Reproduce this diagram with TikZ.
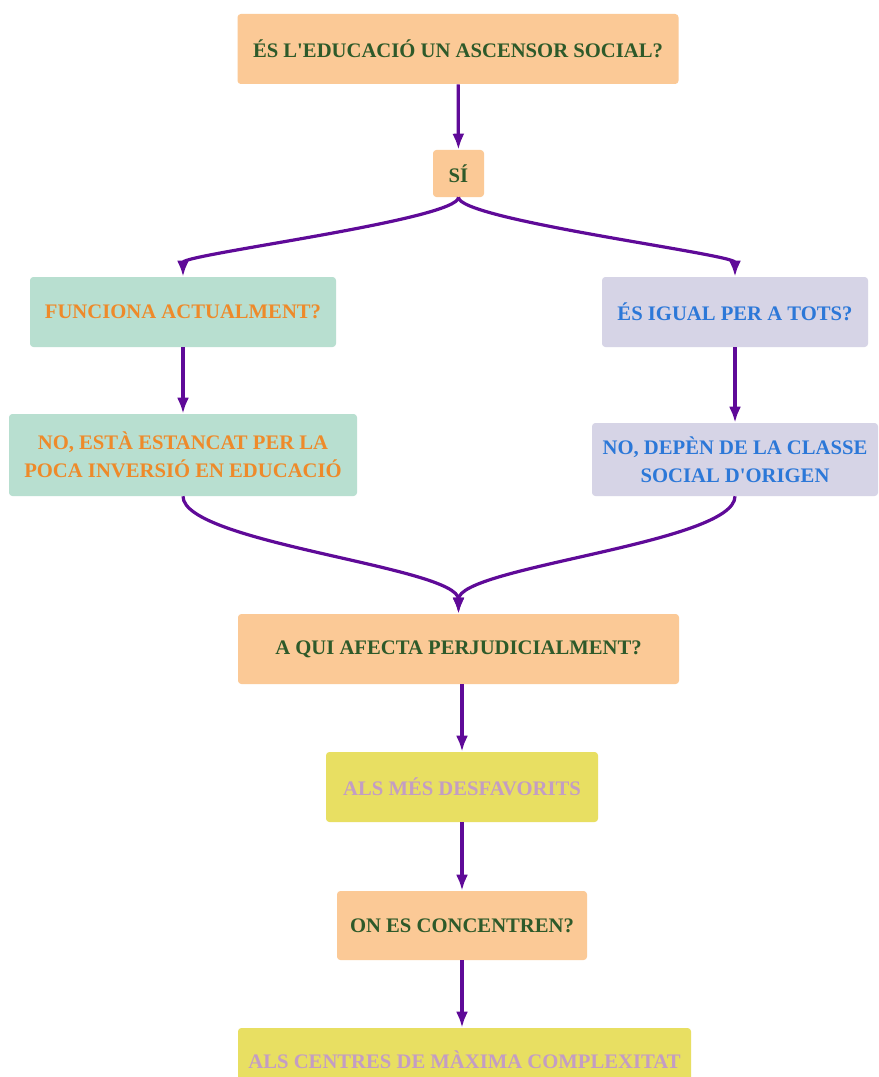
\documentclass[tikz,border=0pt]{standalone}
\usepackage{fontspec}
\setmainfont{Liberation Serif}
\usepackage{xcolor}
\usetikzlibrary{arrows.meta}
\definecolor{peach}{HTML}{FBC996}
\definecolor{mint}{HTML}{B8DFD0}
\definecolor{lavender}{HTML}{D6D4E6}
\definecolor{lemon}{HTML}{E8DF62}
\definecolor{leaf}{HTML}{2E5A2A}
\definecolor{tangerine}{HTML}{EE8A2A}
\definecolor{azure}{HTML}{2C78D8}
\definecolor{mauve}{HTML}{C39DC4}
\definecolor{plum}{HTML}{5F0A98}

\begin{document}
\begin{tikzpicture}[x=0.75pt,y=-0.75pt,
	box/.style={rounded corners=2.5pt,inner sep=0pt,align=center,
		font=\bfseries\fontsize{15.5}{21}\selectfont},
	ask/.style={box,fill=peach,text=leaf},
	left/.style={box,fill=mint,text=tangerine},
	right/.style={box,fill=lavender,text=azure},
	answer/.style={box,fill=lemon,text=mauve},
	link/.style={-{Latex[length=12pt,width=9pt]},line width=2.4pt,draw=plum}]
			\useasboundingbox (0,0) rectangle (878,1077);
			\fill[white] (0,0) rectangle (878,1077);
			\clip (0,0) rectangle (878,1077);
			\node[ask,minimum width=441*0.75pt,minimum height=70*0.75pt] (question) at (458,49) {ÉS L\textquotesingle EDUCACIÓ UN ASCENSOR SOCIAL?};
			\node[ask,minimum width=51*0.75pt,minimum height=47*0.75pt] (yes) at (458.5,173.5) {SÍ};
			\node[left,minimum width=306*0.75pt,minimum height=70*0.75pt] (works) at (183,312) {FUNCIONA ACTUALMENT?};
			\node[left,minimum width=348*0.75pt,minimum height=82*0.75pt] (stuck) at (183,455) {NO, ESTÀ ESTANCAT PER LA\\POCA INVERSIÓ EN EDUCACIÓ};
			\node[right,minimum width=266*0.75pt,minimum height=70*0.75pt] (equal) at (735,312) {ÉS IGUAL PER A TOTS?};
			\node[right,minimum width=286*0.75pt,minimum height=73*0.75pt] (origin) at (735,459.5) {NO, DEPÈN DE LA CLASSE\\SOCIAL D\textquotesingle ORIGEN};
			\node[ask,minimum width=441*0.75pt,minimum height=70*0.75pt] (whom) at (458.5,649) {A QUI AFECTA PERJUDICIALMENT?};
			\node[answer,minimum width=272*0.75pt,minimum height=70*0.75pt] (poor) at (462,787) {ALS MÉS DESFAVORITS};
			\node[ask,minimum width=250*0.75pt,minimum height=69*0.75pt] (where) at (462,925.5) {ON ES CONCENTREN?};
			\node[answer,minimum width=453*0.75pt,minimum height=64*0.75pt] (centres) at (464.5,1060) {ALS CENTRES DE MÀXIMA COMPLEXITAT};
			\draw[link] (question) -- (yes);
			\draw[link] (yes.south) to[out=-90,in=90,looseness=0.2] (works.north);
			\draw[link] (yes.south) to[out=-90,in=90,looseness=0.2] (equal.north);
			\draw[link] (works.south -| stuck) -- (stuck.north);
			\draw[link] (equal.south -| origin) -- (origin.north);
			\draw[link] (stuck.south) to[out=-90,in=90,looseness=0.4] (whom.north);
			\draw[link] (origin.south) to[out=-90,in=90,looseness=0.4] (whom.north);
			\draw[link] (whom.south -| poor) -- (poor.north);
			\draw[link] (poor.south -| where) -- (where.north);
			\draw[link] (where.south) -- (where.south |- centres.north);
		\end{tikzpicture}
\end{document}
